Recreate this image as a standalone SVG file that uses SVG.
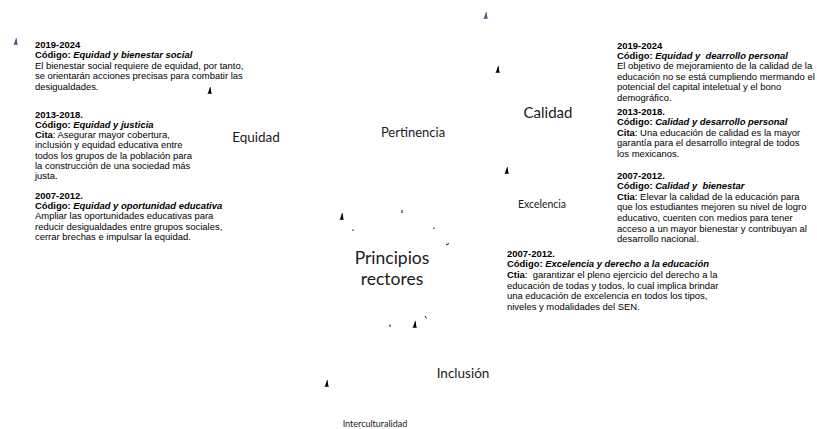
<svg xmlns="http://www.w3.org/2000/svg" width="817" height="429" viewBox="0 0 817 429">
  <style>
    .note { font-family: "Liberation Sans", Arial, sans-serif; font-size: 9.45px; fill: #000; }
    .b { font-weight: bold; }
    .bi { font-weight: bold; font-style: italic; }
    .lbl { font-family: Lato, "Open Sans", sans-serif; fill: #1a1a1a; text-anchor: middle; }
    .mk { fill: #000; }
    .mk-blue { fill: #3b5a8c; }
  </style>
  <defs>
    <path id="tri" d="M0,6 L2,0 L2.6,0 L3.4,6 Z M-0.4,6 L3.8,6 L3.8,6.8 L-0.4,6.8 Z"/>
  </defs>

  <rect width="817" height="429" fill="#fff"/>

  <!-- connector remnants -->
  <g id="connectors">
    <use href="#tri" x="14" y="38" class="mk-blue"/>
    <use href="#tri" x="484" y="12" class="mk-blue"/>
    <use href="#tri" x="208" y="87" class="mk"/>
    <use href="#tri" x="496" y="66" class="mk"/>
    <use href="#tri" x="505" y="167" class="mk"/>
    <use href="#tri" x="340" y="213" class="mk"/>
    <use href="#tri" x="413" y="321" class="mk"/>
    <use href="#tri" x="325" y="380" class="mk"/>
    <rect x="401.5" y="210" width="1" height="3" class="mk"/>
    <rect x="352.5" y="229.5" width="1" height="1.5" class="mk"/>
    <rect x="433.5" y="227.5" width="1" height="1.5" class="mk"/>
    <path d="M446,245 L449,243.5" stroke="#000" stroke-width="1" fill="none"/>
    <rect x="389.5" y="324.5" width="1" height="2.5" class="mk"/>
    <path d="M425,316 L426.5,318.5" stroke="#000" stroke-width="0.9" fill="none"/>
  </g>

  <!-- central node -->
  <g id="principios">
    <text class="lbl" x="392" y="264" font-size="17.5">Principios</text>
    <text class="lbl" x="392" y="285" font-size="17.5">rectores</text>
  </g>

  <g id="equidad">
    <text class="lbl" x="256" y="142" font-size="13.5">Equidad</text>
  </g>
  <g id="pertinencia">
    <text class="lbl" x="413" y="137" font-size="13">Pertinencia</text>
  </g>
  <g id="calidad">
    <text class="lbl" x="548" y="118" font-size="15">Calidad</text>
  </g>
  <g id="excelencia">
    <text class="lbl" x="542" y="207.5" font-size="10.5">Excelencia</text>
  </g>
  <g id="inclusion">
    <text class="lbl" x="463" y="378" font-size="13.5">Inclusión</text>
  </g>
  <g id="interculturalidad">
    <text class="lbl" x="375" y="427" font-size="9">Interculturalidad</text>
  </g>

  <!-- notes: equidad -->
  <g id="nota-equidad-2019">
    <text class="note" x="35" y="47.5"><tspan class="b">2019-2024</tspan>
      <tspan x="35" dy="10.5" class="b">Código: </tspan><tspan class="bi">Equidad y bienestar social</tspan>
      <tspan x="35" dy="10.5">El bienestar social requiere de equidad, por tanto,</tspan>
      <tspan x="35" dy="10.5">se orientarán acciones precisas para combatir las</tspan>
      <tspan x="35" dy="10.5">desigualdades.</tspan></text>
  </g>
  <g id="nota-equidad-2013">
    <text class="note" x="35" y="117.5"><tspan class="b">2013-2018.</tspan>
      <tspan x="35" dy="10.3" class="b">Código: </tspan><tspan class="bi">Equidad y justicia</tspan>
      <tspan x="35" dy="10.3" class="b">Cita</tspan><tspan>: Asegurar mayor cobertura,</tspan>
      <tspan x="35" dy="10.3">inclusión y equidad educativa entre</tspan>
      <tspan x="35" dy="10.3">todos los grupos de la población para</tspan>
      <tspan x="35" dy="10.3">la construcción de una sociedad más</tspan>
      <tspan x="35" dy="10.3">justa.</tspan></text>
  </g>
  <g id="nota-equidad-2007">
    <text class="note" x="35" y="198.5"><tspan class="b">2007-2012.</tspan>
      <tspan x="35" dy="10.4" class="b">Código: </tspan><tspan class="bi">Equidad y oportunidad educativa</tspan>
      <tspan x="35" dy="10.4">Ampliar las oportunidades educativas para</tspan>
      <tspan x="35" dy="10.4">reducir desigualdades entre grupos sociales,</tspan>
      <tspan x="35" dy="10.4">cerrar brechas e impulsar la equidad.</tspan></text>
  </g>

  <!-- notes: calidad -->
  <g id="nota-calidad-2019">
    <text class="note" x="617" y="48.5"><tspan class="b">2019-2024</tspan>
      <tspan x="617" dy="10.4" class="b">Código: </tspan><tspan class="bi">Equidad y &#160;dearrollo personal</tspan>
      <tspan x="617" dy="10.4">El objetivo de mejoramiento de la calidad de la</tspan>
      <tspan x="617" dy="10.4">educación no se está cumpliendo mermando el</tspan>
      <tspan x="617" dy="10.4">potencial del capital inteletual y el bono</tspan>
      <tspan x="617" dy="10.4">demográfico.</tspan></text>
  </g>
  <g id="nota-calidad-2013">
    <text class="note" x="617" y="114.5"><tspan class="b">2013-2018.</tspan>
      <tspan x="617" dy="10.6" class="b">Código: </tspan><tspan class="bi">Calidad y desarrollo personal</tspan>
      <tspan x="617" dy="10.6" class="b">Cita</tspan><tspan>: Una educación de calidad es la mayor</tspan>
      <tspan x="617" dy="10.6">garantía para el desarrollo integral de todos</tspan>
      <tspan x="617" dy="10.6">los mexicanos.</tspan></text>
  </g>
  <g id="nota-calidad-2007">
    <text class="note" x="617" y="178.5"><tspan class="b">2007-2012.</tspan>
      <tspan x="617" dy="10.6" class="b">Código: </tspan><tspan class="bi">Calidad y &#160;bienestar</tspan>
      <tspan x="617" dy="10.6" class="b">Ctia</tspan><tspan>: Elevar la calidad de la educación para</tspan>
      <tspan x="617" dy="10.6">que los estudiantes mejoren su nivel de logro</tspan>
      <tspan x="617" dy="10.6">educativo, cuenten con medios para tener</tspan>
      <tspan x="617" dy="10.6">acceso a un mayor bienestar y contribuyan al</tspan>
      <tspan x="617" dy="10.6">desarrollo nacional.</tspan></text>
  </g>

  <!-- note: excelencia -->
  <g id="nota-excelencia-2007">
    <text class="note" x="507" y="256.5"><tspan class="b">2007-2012.</tspan>
      <tspan x="507" dy="10.7" class="b">Código: </tspan><tspan class="bi">Excelencia y derecho a la educación</tspan>
      <tspan x="507" dy="10.7" class="b">Ctia</tspan><tspan>: &#160;garantizar el pleno ejercicio del derecho a la</tspan>
      <tspan x="507" dy="10.7">educación de todas y todos, lo cual implica brindar</tspan>
      <tspan x="507" dy="10.7">una educación de excelencia en todos los tipos,</tspan>
      <tspan x="507" dy="10.7">niveles y modalidades del SEN.</tspan></text>
  </g>
</svg>
